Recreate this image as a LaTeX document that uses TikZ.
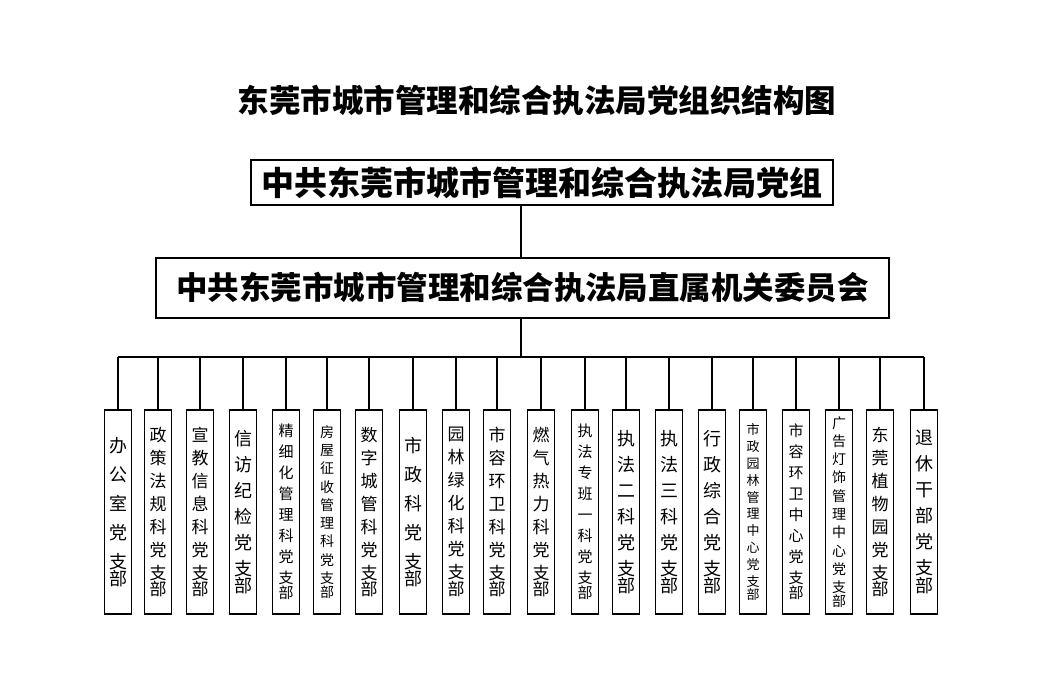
\documentclass[tikz,border=0pt]{standalone}
\usepackage{fontspec}
\newfontfamily\cjk{Noto Sans CJK SC}
\newcommand{\vt}[3]{\fontsize{#1}{#2}\selectfont #3}
\begin{document}
\begin{tikzpicture}[x=1pt,y=-1pt,line width=1.1pt,
  top/.style={draw,inner sep=0pt,font=\cjk},
  br/.style={draw,inner sep=0pt,minimum width=27pt,minimum height=204pt,text width=27pt,align=center,font=\cjk}]
\useasboundingbox[fill=white] (0,0) rectangle (1045,685);
\node[font=\cjk\bfseries\fontsize{31.5}{33}\selectfont] (title) at (537,100) {东莞市城市管理和综合执法局党组织结构图};
\node[top,minimum width=582pt,minimum height=45pt,font=\cjk\bfseries\fontsize{33}{35}\selectfont] (a) at (542,182.5) {中共东莞市城市管理和综合执法局党组};
\node[top,minimum width=733pt,minimum height=60pt,font=\cjk\bfseries\fontsize{31.5}{33}\selectfont] (b) at (522.5,288) {中共东莞市城市管理和综合执法局直属机关委员会};
\coordinate (ta) at (521,205);
\coordinate (tb) at (521,258);
\draw (ta) -- (tb);
\coordinate (bus) at (521,357);
\draw (521,318) -- (bus);
\draw (118,357) -- (924,357);
\foreach \x/\n/\s/\k/\t in {
118/n1/18/29/{办\\公\\室\\党\\支\\部},
158/n2/17/23/{政\\策\\法\\规\\科\\党\\支\\部},
200/n3/17/23/{宣\\教\\信\\息\\科\\党\\支\\部},
243/n4/18/26/{信\\访\\纪\\检\\党\\支\\部},
286/n5/15/21/{精\\细\\化\\管\\理\\科\\党\\支\\部},
327/n6/14/18.3/{房\\屋\\征\\收\\管\\理\\科\\党\\支\\部},
369/n7/17/23/{数\\字\\城\\管\\科\\党\\支\\部},
413/n8/18/29/{市\\政\\科\\党\\支\\部},
456/n9/17/23/{园\\林\\绿\\化\\科\\党\\支\\部},
497/n10/17/23/{市\\容\\环\\卫\\科\\党\\支\\部},
541/n11/17/23/{燃\\气\\热\\力\\科\\党\\支\\部},
585/n12/15/21/{执\\法\\专\\班\\一\\科\\党\\支\\部},
626/n13/18/26/{执\\法\\二\\科\\党\\支\\部},
669/n14/18/26/{执\\法\\三\\科\\党\\支\\部},
712/n15/18/26/{行\\政\\综\\合\\党\\支\\部},
753/n16/13/16.8/{市\\政\\园\\林\\管\\理\\中\\心\\党\\支\\部},
796/n17/15/21/{市\\容\\环\\卫\\中\\心\\党\\支\\部},
839/n18/14/18.3/{广\\告\\灯\\饰\\管\\理\\中\\心\\党\\支\\部},
880/n19/17/23/{东\\莞\\植\\物\\园\\党\\支\\部},
924/n20/18/26/{退\\休\\干\\部\\党\\支\\部}}{
  \node[br] (\n) at (\x,512) {\vt{\s}{\k}{\t}};
  \draw (\x,357) -- (\n.north);
}
\end{tikzpicture}
\end{document}
